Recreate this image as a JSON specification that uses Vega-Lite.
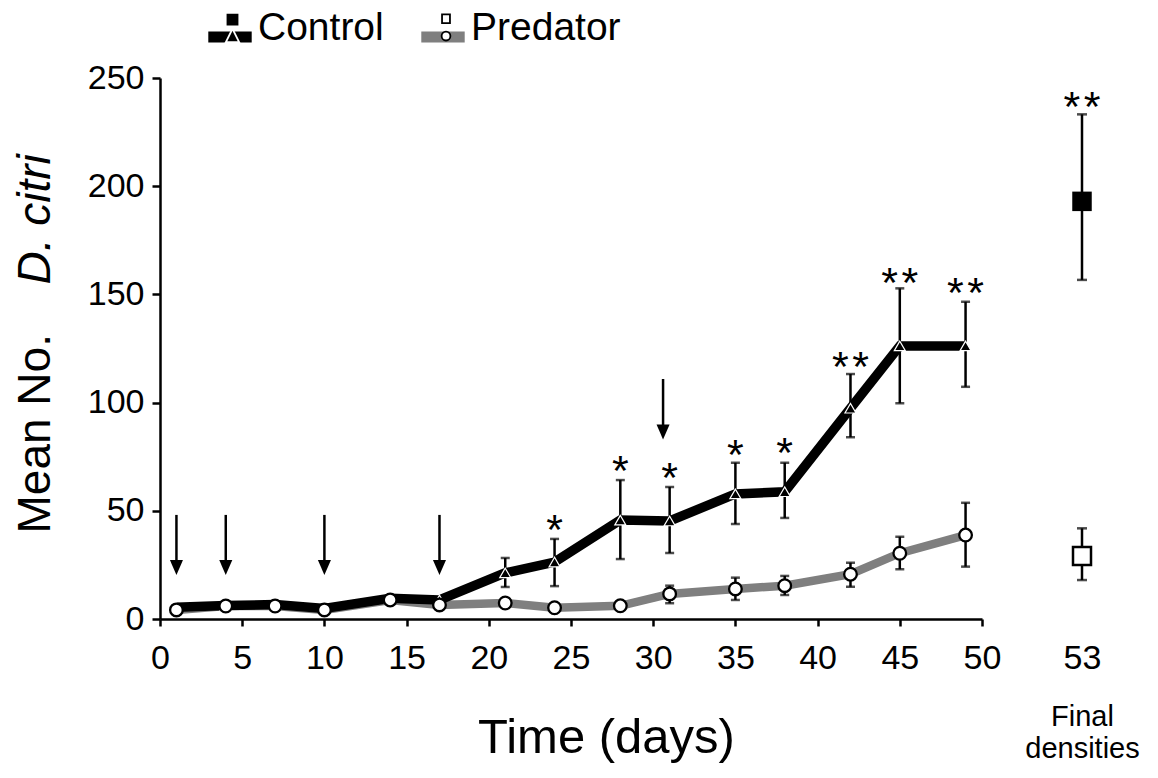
{
  "$schema": "https://vega.github.io/schema/vega-lite/v6.json",
  "padding": {"left": 12, "top": 3, "right": 0, "bottom": 0},
  "bounds": "flush",
  "spacing": 80,
  "config": {
    "view": {"stroke": null},
    "font": "Liberation Sans",
    "axis": {"grid": false, "labelColor": "black", "titleColor": "black", "domainColor": "black", "tickColor": "black", "labelFlush": false, "labelOverlap": false}
  },
  "datasets": {
    "series": [
      {"group": "Control", "day": 1, "mean": 5.4, "lo": null, "hi": null},
      {"group": "Control", "day": 4, "mean": 6.2, "lo": null, "hi": null},
      {"group": "Control", "day": 7, "mean": 6.7, "lo": null, "hi": null},
      {"group": "Control", "day": 10, "mean": 4.9, "lo": null, "hi": null},
      {"group": "Control", "day": 14, "mean": 9.6, "lo": null, "hi": null},
      {"group": "Control", "day": 17, "mean": 8.8, "lo": null, "hi": null},
      {"group": "Control", "day": 21, "mean": 21.3, "lo": 14.8, "hi": 28.2},
      {"group": "Control", "day": 24, "mean": 26.3, "lo": 15.2, "hi": 37},
      {"group": "Control", "day": 28, "mean": 45.7, "lo": 27.7, "hi": 64.2},
      {"group": "Control", "day": 31, "mean": 45.3, "lo": 30.5, "hi": 61},
      {"group": "Control", "day": 35, "mean": 57.8, "lo": 43.9, "hi": 72.2},
      {"group": "Control", "day": 38, "mean": 58.8, "lo": 46.7, "hi": 72.2},
      {"group": "Control", "day": 42, "mean": 97.4, "lo": 84, "hi": 113.2},
      {"group": "Control", "day": 45, "mean": 126.2, "lo": 99.7, "hi": 152.8},
      {"group": "Control", "day": 49, "mean": 126.2, "lo": 107.3, "hi": 146.6},
      {"group": "Predator", "day": 1, "mean": 4.2, "lo": null, "hi": null},
      {"group": "Predator", "day": 4, "mean": 6.0, "lo": null, "hi": null},
      {"group": "Predator", "day": 7, "mean": 6.0, "lo": null, "hi": null},
      {"group": "Predator", "day": 10, "mean": 4.2, "lo": null, "hi": null},
      {"group": "Predator", "day": 14, "mean": 8.8, "lo": null, "hi": null},
      {"group": "Predator", "day": 17, "mean": 6.5, "lo": null, "hi": null},
      {"group": "Predator", "day": 21, "mean": 7.4, "lo": null, "hi": null},
      {"group": "Predator", "day": 24, "mean": 5.2, "lo": null, "hi": null},
      {"group": "Predator", "day": 28, "mean": 6.1, "lo": null, "hi": null},
      {"group": "Predator", "day": 31, "mean": 11.6, "lo": 7.3, "hi": 15.4},
      {"group": "Predator", "day": 35, "mean": 13.9, "lo": 8.8, "hi": 19.1},
      {"group": "Predator", "day": 38, "mean": 15.4, "lo": 11.1, "hi": 19.9},
      {"group": "Predator", "day": 42, "mean": 20.7, "lo": 14.9, "hi": 26},
      {"group": "Predator", "day": 45, "mean": 30.4, "lo": 23, "hi": 38},
      {"group": "Predator", "day": 49, "mean": 38.8, "lo": 24.2, "hi": 53.7}
    ],
    "final": [
      {"group": "Control", "day": 53, "mean": 193, "lo": 156.7, "hi": 233.2},
      {"group": "Predator", "day": 53, "mean": 29.1, "lo": 18, "hi": 41.9}
    ],
    "arrows": [
      {"day": 1, "top": 48.1, "head": 23.8},
      {"day": 4, "top": 48.1, "head": 23.8},
      {"day": 10, "top": 48.1, "head": 23.8},
      {"day": 17, "top": 48.1, "head": 23.8},
      {"day": 30.6, "top": 110.9, "head": 86.4}
    ],
    "stars": [
      {"day": 24, "y": 45.7, "label": "*"},
      {"day": 28, "y": 73.2, "label": "*"},
      {"day": 31, "y": 69.6, "label": "*"},
      {"day": 35, "y": 80.4, "label": "*"},
      {"day": 38, "y": 81.2, "label": "*"},
      {"day": 42, "y": 121.2, "label": "*\u200a*"},
      {"day": 45, "y": 160, "label": "*\u200a*"},
      {"day": 49, "y": 155.1, "label": "*\u200a*"},
      {"day": 53, "y": 241.4, "label": "*\u200a*"}
    ]
  },
  "hconcat": [
    {
      "width": 822,
      "height": 541,
      "resolve": {"axis": {"y": "independent"}},
      "encoding": {
        "x": {"field": "day", "type": "quantitative", "scale": {"domain": [0, 50], "nice": false},
          "axis": {"orient": "bottom", "values": [0, 5, 10, 15, 20, 25, 30, 35, 40, 45, 50], "title": "Time (days)", "titleFontSize": 49, "titleFontWeight": "normal", "titleX": 446, "titleY": 133, "titleBaseline": "alphabetic", "titleAlign": "center", "titleAngle": 0, "labelFontSize": 34, "labelPadding": 15, "tickSize": 7, "tickWidth": 2.5, "domainWidth": 2.5}}
      },
      "layer": [
        {
          "data": {"name": "series"},
          "transform": [{"filter": "datum.lo != null"}],
          "mark": {"type": "rule", "color": "black", "strokeWidth": 2.5},
          "encoding": {
            "y": {"field": "lo", "type": "quantitative", "scale": {"domain": [0, 250], "nice": false},
              "axis": {"orient": "left", "values": [0, 50, 100, 150, 200, 250], "title": "Mean No.", "titleFontSize": 46, "titleFontWeight": "normal", "titleX": -111, "titleY": 455, "titleAngle": 270, "titleAlign": "left", "titleBaseline": "alphabetic", "labelFontSize": 34, "labelPadding": 8, "tickSize": 8, "tickWidth": 2.5, "domainWidth": 2.5}},
            "y2": {"field": "hi"}
          }
        },
        {
          "data": {"name": "series"},
          "transform": [{"filter": "datum.lo != null"}],
          "mark": {"type": "tick", "orient": "horizontal", "color": "black", "size": 9, "thickness": 2.5},
          "encoding": {
            "y": {"field": "lo", "type": "quantitative", "scale": {"domain": [0, 250], "nice": false}, "axis": null}
          }
        },
        {
          "data": {"name": "series"},
          "transform": [{"filter": "datum.lo != null"}],
          "mark": {"type": "tick", "orient": "horizontal", "color": "black", "size": 9, "thickness": 2.5},
          "encoding": {
            "y": {"field": "hi", "type": "quantitative", "scale": {"domain": [0, 250], "nice": false}, "axis": null}
          }
        },
        {
          "data": {"name": "arrows"},
          "mark": {"type": "rule", "color": "black", "strokeWidth": 2.5},
          "encoding": {
            "y": {"field": "top", "type": "quantitative", "scale": {"domain": [0, 250], "nice": false}, "axis": null},
            "y2": {"field": "head"}
          }
        },
        {
          "data": {"name": "arrows"},
          "mark": {"type": "point", "shape": "M-0.87,-1L0.87,-1L0,1Z", "size": 225, "filled": true, "fill": "black", "strokeWidth": 0, "opacity": 1},
          "encoding": {
            "y": {"field": "head", "type": "quantitative", "scale": {"domain": [0, 250], "nice": false}, "axis": null}
          }
        },
        {
          "data": {"name": "series"},
          "transform": [{"filter": {"field": "group", "equal": "Predator"}}],
          "mark": {"type": "line", "strokeWidth": 8.5},
          "encoding": {
            "y": {"field": "mean", "type": "quantitative", "scale": {"domain": [0, 250], "nice": false},
              "axis": {"orient": "left", "title": "D. citri", "labels": false, "ticks": false, "domain": false, "titleFontStyle": "italic", "titleFontSize": 46, "titleFontWeight": "normal", "titleX": -111, "titleY": 206, "titleAngle": 270, "titleAlign": "left", "titleBaseline": "alphabetic"}},
            "color": {"field": "group", "type": "nominal", "scale": {"range": ["black", "#7f7f7f"]},
              "legend": {"title": null, "orient": "none", "legendX": 45, "legendY": -75, "direction": "horizontal", "symbolType": "M-0.85,0.3L0.85,0.3L0.85,0.52L-0.85,0.52Z M-1,-1L-1,-1 M1,1L1,1", "symbolSize": 1936, "symbolStrokeWidth": 6, "symbolOpacity": 1, "labelFontSize": 39, "labelOffset": 3, "columnPadding": 25, "padding": 0, "labelColor": "black", "labelLimit": 0}}
          }
        },
        {
          "data": {"name": "series"},
          "transform": [{"filter": {"field": "group", "equal": "Control"}}],
          "mark": {"type": "line", "strokeWidth": 9.5},
          "encoding": {
            "y": {"field": "mean", "type": "quantitative", "scale": {"domain": [0, 250], "nice": false}, "axis": null},
            "color": {"field": "group", "type": "nominal", "scale": {"range": ["black", "#7f7f7f"]},
              "legend": {"title": null, "orient": "none", "legendX": 45, "legendY": -75, "direction": "horizontal", "symbolType": "M-0.85,0.3L0.85,0.3L0.85,0.52L-0.85,0.52Z M-1,-1L-1,-1 M1,1L1,1", "symbolSize": 1936, "symbolStrokeWidth": 6, "symbolOpacity": 1, "labelFontSize": 39, "labelOffset": 3, "columnPadding": 25, "padding": 0, "labelColor": "black", "labelLimit": 0}}
          }
        },
        {
          "data": {"name": "series"},
          "transform": [{"filter": {"field": "group", "equal": "Control"}}],
          "mark": {"type": "point", "shape": "triangle-up", "size": 121, "filled": true, "fill": "black", "stroke": "white", "strokeWidth": 1.2, "opacity": 1},
          "encoding": {
            "y": {"field": "mean", "type": "quantitative", "scale": {"domain": [0, 250], "nice": false}, "axis": null}
          }
        },
        {
          "data": {"name": "series"},
          "transform": [{"filter": {"field": "group", "equal": "Predator"}}],
          "mark": {"type": "point", "shape": "circle", "size": 160, "filled": true, "fill": "white", "stroke": "black", "strokeWidth": 2.3, "opacity": 1},
          "encoding": {
            "y": {"field": "mean", "type": "quantitative", "scale": {"domain": [0, 250], "nice": false}, "axis": null}
          }
        },
        {
          "data": {"name": "stars"},
          "transform": [{"filter": "datum.day < 52"}],
          "mark": {"type": "text", "fontSize": 43, "color": "black", "align": "center", "baseline": "alphabetic", "dy": 24},
          "encoding": {
            "y": {"field": "y", "type": "quantitative", "scale": {"domain": [0, 250], "nice": false}, "axis": null},
            "text": {"field": "label"}
          }
        },
        {
          "data": {"name": "series"},
          "transform": [{"filter": "false"}],
          "mark": {"type": "point", "filled": true, "strokeWidth": 1.5, "opacity": 1},
          "encoding": {
            "y": {"field": "mean", "type": "quantitative", "scale": {"domain": [0, 250], "nice": false}, "axis": null},
            "shape": {"field": "group", "type": "nominal",
              "scale": {"domain": ["Control", "Predator"], "range": ["M-0.31,-0.61L0.31,-0.61L0.31,0.01L-0.31,0.01Z M0,0.12L0.3,0.72L-0.3,0.72Z M-1,-1L-1,-1 M1,1L1,1", "M-0.18,-0.54L0.18,-0.54L0.18,-0.14L-0.18,-0.14Z M0.2,0.45A0.2,0.2 0 1,1 -0.2,0.45A0.2,0.2 0 1,1 0.2,0.45Z M-1,-1L-1,-1 M1,1L1,1"]},
              "legend": {"title": null, "orient": "none", "legendX": 49.5, "legendY": -75, "direction": "horizontal", "symbolSize": 1936, "symbolStrokeWidth": 1.8, "symbolOpacity": 1, "labelFontSize": 39, "labelOffset": 0, "columnPadding": 161.5, "padding": 0, "labelExpr": "''", "labelLimit": 0}},
            "fill": {"field": "group", "type": "nominal",
              "scale": {"domain": ["Control", "Predator"], "range": ["black", "white"]},
              "legend": {"title": null, "orient": "none", "legendX": 49.5, "legendY": -75, "direction": "horizontal", "symbolSize": 1936, "symbolStrokeWidth": 1.8, "symbolOpacity": 1, "labelFontSize": 39, "labelOffset": 0, "columnPadding": 161.5, "padding": 0, "labelExpr": "''", "labelLimit": 0}},
            "stroke": {"field": "group", "type": "nominal",
              "scale": {"domain": ["Control", "Predator"], "range": ["white", "black"]},
              "legend": {"title": null, "orient": "none", "legendX": 49.5, "legendY": -75, "direction": "horizontal", "symbolSize": 1936, "symbolStrokeWidth": 1.8, "symbolOpacity": 1, "labelFontSize": 39, "labelOffset": 0, "columnPadding": 161.5, "padding": 0, "labelExpr": "''", "labelLimit": 0}}
          }
        }
      ]
    },
    {
      "width": 40,
      "height": 541,
      "encoding": {
        "x": {"field": "day", "type": "quantitative", "scale": {"domain": [52, 54], "nice": false, "zero": false},
          "axis": {"orient": "bottom", "values": [53], "domain": false, "tickColor": "transparent", "tickSize": 7, "labelPadding": 15, "labelFontSize": 34, "title": ["Final", "densities"], "titleFontSize": 29, "titleLineHeight": 32, "titleFontWeight": "normal", "titleX": 20, "titleY": 106, "titleBaseline": "alphabetic", "titleAlign": "center"}}
      },
      "layer": [
        {
          "data": {"name": "final"},
          "mark": {"type": "rule", "color": "black", "strokeWidth": 2.5},
          "encoding": {
            "y": {"field": "lo", "type": "quantitative", "scale": {"domain": [0, 250], "nice": false}, "axis": null},
            "y2": {"field": "hi"}
          }
        },
        {
          "data": {"name": "final"},
          "mark": {"type": "tick", "orient": "horizontal", "color": "black", "size": 10, "thickness": 2.5},
          "encoding": {
            "y": {"field": "lo", "type": "quantitative", "scale": {"domain": [0, 250], "nice": false}, "axis": null}
          }
        },
        {
          "data": {"name": "final"},
          "mark": {"type": "tick", "orient": "horizontal", "color": "black", "size": 10, "thickness": 2.5},
          "encoding": {
            "y": {"field": "hi", "type": "quantitative", "scale": {"domain": [0, 250], "nice": false}, "axis": null}
          }
        },
        {
          "data": {"name": "final"},
          "transform": [{"filter": {"field": "group", "equal": "Control"}}],
          "mark": {"type": "point", "shape": "square", "size": 380, "filled": true, "fill": "black", "strokeWidth": 0, "opacity": 1},
          "encoding": {
            "y": {"field": "mean", "type": "quantitative", "scale": {"domain": [0, 250], "nice": false}, "axis": null}
          }
        },
        {
          "data": {"name": "final"},
          "transform": [{"filter": {"field": "group", "equal": "Predator"}}],
          "mark": {"type": "point", "shape": "square", "size": 324, "filled": true, "fill": "white", "stroke": "black", "strokeWidth": 2.5, "opacity": 1},
          "encoding": {
            "y": {"field": "mean", "type": "quantitative", "scale": {"domain": [0, 250], "nice": false}, "axis": null}
          }
        },
        {
          "data": {"name": "stars"},
          "transform": [{"filter": "datum.day > 52"}],
          "mark": {"type": "text", "fontSize": 43, "color": "black", "align": "center", "baseline": "alphabetic", "dy": 24},
          "encoding": {
            "y": {"field": "y", "type": "quantitative", "scale": {"domain": [0, 250], "nice": false}, "axis": null},
            "text": {"field": "label"}
          }
        }
      ]
    }
  ]
}
